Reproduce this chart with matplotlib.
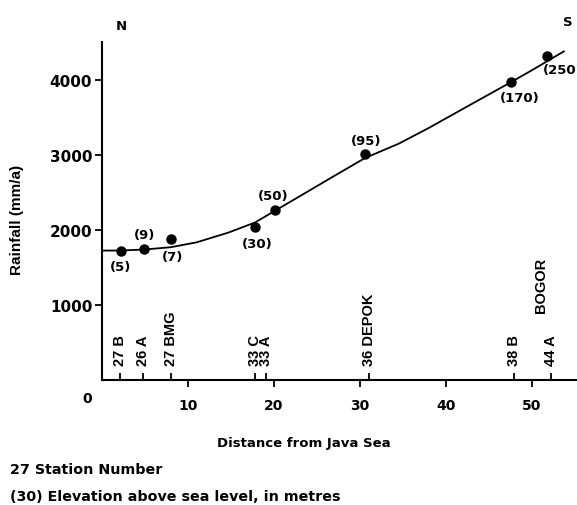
import matplotlib.pyplot as plt

# distance from the Java Sea (km) and annual rainfall (mm/a) of the stations
dist_km = [2.2, 4.9, 8.0, 17.8, 20.1, 30.6, 47.6, 51.7]
rain_mm = [1726, 1740, 1886, 2033, 2260, 3010, 3973, 4321]
elev_labels = ['(5)', '(9)', '(7)', '(30)', '(50)', '(95)', '(170)', '(250)']
# label offset in pixels relative to the point
elev_offsets = [(0, -16), (0, 15), (2, -18), (2, -16), (-2, 15), (1, 14), (8, -16), (16, -14)]

# fitted rainfall curve
curve_km = [0, 2.2, 5.0, 8.0, 11.0, 14.7, 17.8, 20.1, 23.0, 27.0, 30.6, 34.5, 38.0, 43.0, 47.6, 50.0, 53.7]
curve_mm = [1725, 1726, 1740, 1770, 1835, 1965, 2100, 2255, 2450, 2720, 2960, 3150, 3360, 3680, 3973, 4130, 4380]

# station ticks along the distance axis
station_km = [2.1, 4.8, 8.0, 17.75, 19.05, 31.0, 47.9, 52.2]
station_names = ['27 B', '26 A', '27 BMG', '33 C', '33 A', '36 DEPOK', '38 B', '44 A']

xticks = [10, 20, 30, 40, 50]
yticks = [1000, 2000, 3000, 4000]

W, H = 577, 506
px = 72.0 / 100  # points per pixel

fig = plt.figure(figsize=(W / 100, H / 100), dpi=100)
fig.patch.set_facecolor('white')

ax = fig.add_axes([102 / W, 125 / H, 475 / W, 338 / H])
ax.set_xlim(0, 475 / 8.6)
ax.set_ylim(0, 338 * 13.33)

ax.plot(curve_km, curve_mm, color='black', lw=1.3, zorder=3)
ax.plot(dist_km, rain_mm, 'o', color='black', ms=6.5, zorder=4, clip_on=False)

lab_font = dict(family='DejaVu Sans', fontsize=9.5, weight='bold')
for xk, yr, lab, (dx, dy) in zip(dist_km, rain_mm, elev_labels, elev_offsets):
    ax.annotate(lab, (xk, yr), xytext=(dx * px, dy * px), textcoords='offset points',
                ha='center', va='center', annotation_clip=False, **lab_font)

for s in ['top', 'right']:
    ax.spines[s].set_visible(False)
for s in ['left', 'bottom']:
    ax.spines[s].set_linewidth(1.5)

ax.set_xticks(xticks)
ax.set_yticks(yticks)
ax.set_xticks(station_km, minor=True)
ax.tick_params(axis='both', which='major', direction='out', length=5, width=1.3)
ax.tick_params(axis='x', which='major', pad=8)
ax.tick_params(axis='y', which='major', pad=2)
ax.tick_params(axis='x', which='minor', direction='in', length=5, width=1.3)
for t in ax.get_xticklabels():
    t.set_family('DejaVu Sans')
    t.set_fontsize(10)
    t.set_fontweight('bold')
for t in ax.get_yticklabels():
    t.set_family('DejaVu Sans')
    t.set_fontsize(11)
    t.set_fontweight('bold')

ax.annotate('0', (0, 0), xytext=(-15 * px, -18 * px), textcoords='offset points',
            ha='center', va='center', annotation_clip=False,
            family='DejaVu Sans', fontsize=10, weight='bold')

rot_font = dict(family='Liberation Sans', fontsize=10.5, weight='bold')
for xk, name in zip(station_km, station_names):
    ax.annotate(name, (xk, 0), xytext=(0, 15 * px), textcoords='offset points',
                rotation=90, ha='center', va='bottom', annotation_clip=False, **rot_font)
ax.annotate('BOGOR', (station_km[-1], 0), xytext=(-10 * px, 68 * px),
            textcoords='offset points', rotation=90, ha='center', va='bottom',
            annotation_clip=False, **rot_font)

ax.set_ylabel('Rainfall (mm/a)', family='Liberation Sans', fontsize=11, weight='bold')
ax.yaxis.set_label_coords(-78 / 475, (381 - 220) / 338)

fig.text(121 / W, 1 - 26 / H, 'N', ha='center', va='center', **lab_font)
fig.text(568 / W, 1 - 22 / H, 'S', ha='center', va='center', **lab_font)
fig.text(304 / W, 1 - 443 / H, 'Distance from Java Sea', ha='center', va='center', **lab_font)
leg_font = dict(family='DejaVu Sans', fontsize=10.3, weight='bold')
fig.text(10 / W, 1 - 470 / H, '27 Station Number', ha='left', va='center', **leg_font)
fig.text(10 / W, 1 - 497 / H, '(30) Elevation above sea level, in metres',
         ha='left', va='center', **leg_font)

fig.savefig('out.png', dpi=100)
